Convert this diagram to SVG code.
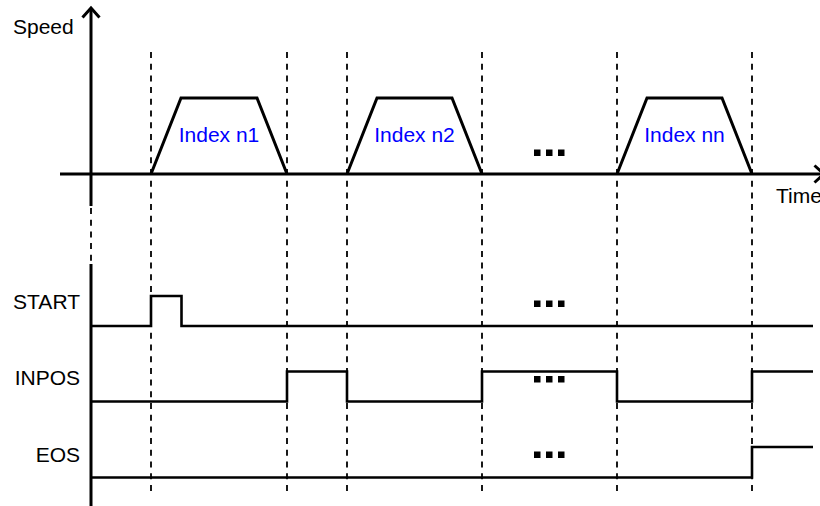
<svg xmlns="http://www.w3.org/2000/svg" width="820" height="506" viewBox="0 0 820 506">
<style>
  .lbl { font-family: "Liberation Sans", Arial, sans-serif; font-size: 21px; fill: #000; }
  .idx { font-family: "Liberation Sans", Arial, sans-serif; font-size: 21px; fill: #0000ff; text-anchor: middle; }
  .axis { stroke: #000; stroke-width: 3; fill: none; }
  .dash { stroke: #000; stroke-width: 1.8; stroke-dasharray: 6 5.7; fill: none; }
  .sig { stroke: #000; stroke-width: 2.6; fill: none; stroke-linejoin: miter; }
  .trap { stroke: #000; stroke-width: 3; fill: none; stroke-linejoin: miter; }
  .dot { fill: #000; }
</style>
<rect width="820" height="506" fill="#fff"/>
<g id="guides">
  <line class="dash" x1="151" y1="52" x2="151" y2="493"/>
  <line class="dash" x1="287" y1="52" x2="287" y2="493"/>
  <line class="dash" x1="347" y1="52" x2="347" y2="493"/>
  <line class="dash" x1="482" y1="52" x2="482" y2="493"/>
  <line class="dash" x1="617" y1="52" x2="617" y2="493"/>
  <line class="dash" x1="752" y1="52" x2="752" y2="493"/>
</g>
<g id="axes">
  <line class="axis" x1="91" y1="8" x2="91" y2="206"/>
  <line class="dash" x1="91" y1="208" x2="91" y2="262"/>
  <line class="axis" x1="91" y1="264" x2="91" y2="506"/>
  <polyline class="axis" points="82.5,17.5 91,8 99.5,17.5"/>
  <line class="axis" x1="60" y1="174" x2="822" y2="174"/>
  <polyline class="axis" points="814.5,165.5 824,174 814.5,182.5"/>
  <text class="lbl" x="13" y="34">Speed</text>
  <text class="lbl" x="776" y="203">Time</text>
</g>
<g id="index-n1">
  <polyline class="trap" points="151,174 181,98 257,98 287,174"/>
  <text class="idx" x="219" y="142">Index n1</text>
</g>
<g id="index-n2">
  <polyline class="trap" points="347,174 377,98 452,98 482,174"/>
  <text class="idx" x="414.5" y="142">Index n2</text>
</g>
<g id="index-nn">
  <polyline class="trap" points="617,174 647,98 722,98 752,174"/>
  <text class="idx" x="684.5" y="142">Index nn</text>
</g>
<g id="ellipsis-speed">
  <rect class="dot" x="534" y="149.5" width="6.5" height="6.5"/>
  <rect class="dot" x="546" y="149.5" width="6.5" height="6.5"/>
  <rect class="dot" x="558" y="149.5" width="6.5" height="6.5"/>
</g>
<g id="start">
  <text class="lbl" x="80" y="309" text-anchor="end">START</text>
  <polyline class="sig" points="92,326 151,326 151,296 181.5,296 181.5,326 813,326"/>
  <rect class="dot" x="534" y="300.5" width="6.5" height="6.5"/>
  <rect class="dot" x="546" y="300.5" width="6.5" height="6.5"/>
  <rect class="dot" x="558" y="300.5" width="6.5" height="6.5"/>
</g>
<g id="inpos">
  <text class="lbl" x="80" y="385" text-anchor="end">INPOS</text>
  <polyline class="sig" points="92,401.5 287,401.5 287,371.5 347,371.5 347,401.5 482,401.5 482,371.5 617,371.5 617,401.5 752,401.5 752,371.5 813,371.5"/>
  <rect class="dot" x="534" y="376" width="6.5" height="6.5"/>
  <rect class="dot" x="546" y="376" width="6.5" height="6.5"/>
  <rect class="dot" x="558" y="376" width="6.5" height="6.5"/>
</g>
<g id="eos">
  <text class="lbl" x="80" y="462" text-anchor="end">EOS</text>
  <polyline class="sig" points="92,477.5 752,477.5 752,447 813,447"/>
  <rect class="dot" x="534" y="451.5" width="6.5" height="6.5"/>
  <rect class="dot" x="546" y="451.5" width="6.5" height="6.5"/>
  <rect class="dot" x="558" y="451.5" width="6.5" height="6.5"/>
</g>
</svg>
